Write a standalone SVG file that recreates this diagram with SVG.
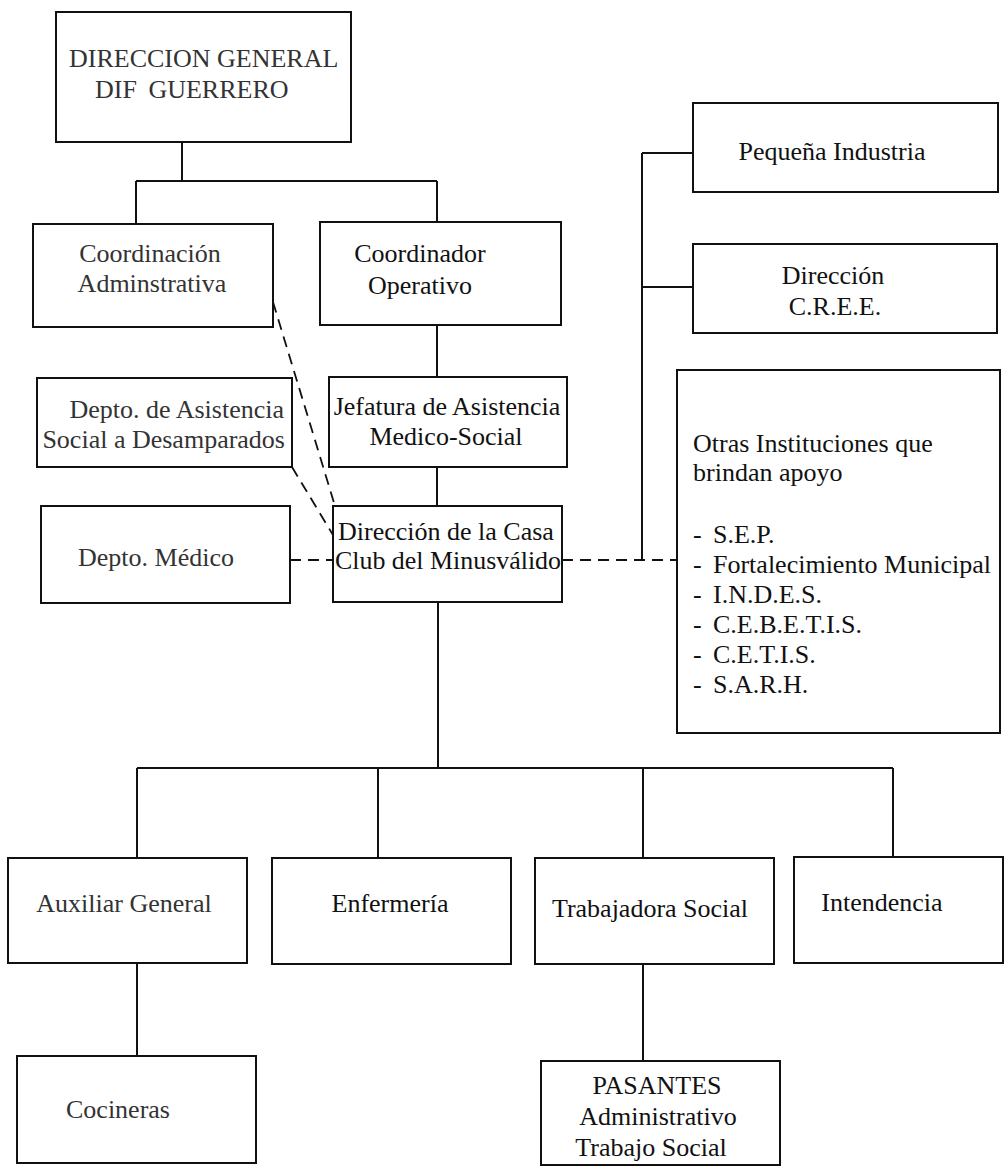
<svg xmlns="http://www.w3.org/2000/svg" width="1005" height="1167" viewBox="0 0 1005 1167">
<style>
.box{fill:#fff;stroke:#111;stroke-width:2}
.ln{stroke:#111;stroke-width:2;fill:none}
.ds{stroke:#111;stroke-width:1.8;fill:none;stroke-dasharray:11 7}
text{font-family:"Liberation Serif","Times New Roman",serif;font-size:26px;fill:#111}
.c{text-anchor:middle}
.e{text-anchor:end}
.lt{fill:#333}
</style>
<rect width="1005" height="1167" fill="#fff"/>
<g id="connectors">
<path class="ln" d="M182 142V181M136 181H437M136 181V224M437 181V222"/>
<path class="ln" d="M437 325V377M437 467V506"/>
<path class="ds" d="M273 302L335 506M292 467L333 535"/>
<path class="ds" d="M290 560H333M562 560H677"/>
<path class="ln" d="M642 153V560M642 153H693M642 287H693"/>
<path class="ln" d="M438 602V768M137 768H893M137 768V858M378 768V858M643 768V858M893 768V857"/>
<path class="ln" d="M137 963V1056M643 964V1061"/>
</g>
<g id="n_direccion_general">
<rect class="box" x="56" y="12" width="295" height="130"/>
<text class="lt" x="69" y="67">DIRECCION GENERAL</text>
<text class="lt" x="95" y="98" word-spacing="5">DIF GUERRERO</text>
</g>
<g id="n_coord_admin">
<rect class="box" x="33" y="224" width="240" height="103"/>
<text class="c lt" x="150" y="262">Coordinación</text>
<text class="c lt" x="152" y="292">Adminstrativa</text>
</g>
<g id="n_coord_oper">
<rect class="box" x="320" y="222" width="241" height="103"/>
<text class="c" x="420" y="262">Coordinador</text>
<text class="c" x="420" y="294">Operativo</text>
</g>
<g id="n_depto_asist">
<rect class="box" x="37" y="378" width="255" height="89"/>
<text class="e lt" x="284" y="418">Depto. de Asistencia</text>
<text class="e lt" x="285" y="448">Social a Desamparados</text>
</g>
<g id="n_jefatura">
<rect class="box" x="329" y="377" width="238" height="90"/>
<text class="c" x="447" y="415">Jefatura de Asistencia</text>
<text class="c" x="446" y="445">Medico-Social</text>
</g>
<g id="n_depto_medico">
<rect class="box" x="41" y="506" width="249" height="97"/>
<text class="c lt" x="156" y="566">Depto. Médico</text>
</g>
<g id="n_direccion_casa">
<rect class="box" x="333" y="506" width="229" height="96"/>
<text class="c" x="446" y="540">Dirección de la Casa</text>
<text class="c" x="448" y="569" textLength="226" lengthAdjust="spacingAndGlyphs">Club del Minusválido</text>
</g>
<g id="n_pequena">
<rect class="box" x="693" y="103" width="305" height="89"/>
<text class="c" x="832" y="160">Pequeña Industria</text>
</g>
<g id="n_cree">
<rect class="box" x="693" y="244" width="304" height="89"/>
<text class="c" x="833" y="284">Dirección</text>
<text class="c" x="835" y="315">C.R.E.E.</text>
</g>
<g id="n_otras">
<rect class="box" x="677" y="370" width="323" height="363"/>
<text x="693" y="452">Otras Instituciones que</text>
<text x="693" y="481">brindan apoyo</text>
<text x="693" y="543">-</text><text x="713" y="543">S.E.P.</text>
<text x="693" y="573">-</text><text x="713" y="573">Fortalecimiento Municipal</text>
<text x="693" y="603">-</text><text x="713" y="603">I.N.D.E.S.</text>
<text x="693" y="633">-</text><text x="713" y="633">C.E.B.E.T.I.S.</text>
<text x="693" y="663">-</text><text x="713" y="663">C.E.T.I.S.</text>
<text x="693" y="693">-</text><text x="713" y="693">S.A.R.H.</text>
</g>
<g id="n_auxiliar">
<rect class="box" x="8" y="858" width="239" height="105"/>
<text class="c lt" x="124" y="912">Auxiliar General</text>
</g>
<g id="n_enfermeria">
<rect class="box" x="272" y="858" width="239" height="106"/>
<text class="c" x="390" y="912">Enfermería</text>
</g>
<g id="n_trabajadora">
<rect class="box" x="535" y="858" width="239" height="106"/>
<text class="c" x="650" y="917">Trabajadora Social</text>
</g>
<g id="n_intendencia">
<rect class="box" x="794" y="857" width="209" height="106"/>
<text class="c" x="882" y="911">Intendencia</text>
</g>
<g id="n_cocineras">
<rect class="box" x="17" y="1056" width="239" height="107"/>
<text class="lt" x="66" y="1118">Cocineras</text>
</g>
<g id="n_pasantes">
<rect class="box" x="541" y="1061" width="239" height="104"/>
<text class="c" x="657" y="1094">PASANTES</text>
<text class="c" x="658" y="1125">Administrativo</text>
<text class="c" x="651" y="1156">Trabajo Social</text>
</g>
</svg>
